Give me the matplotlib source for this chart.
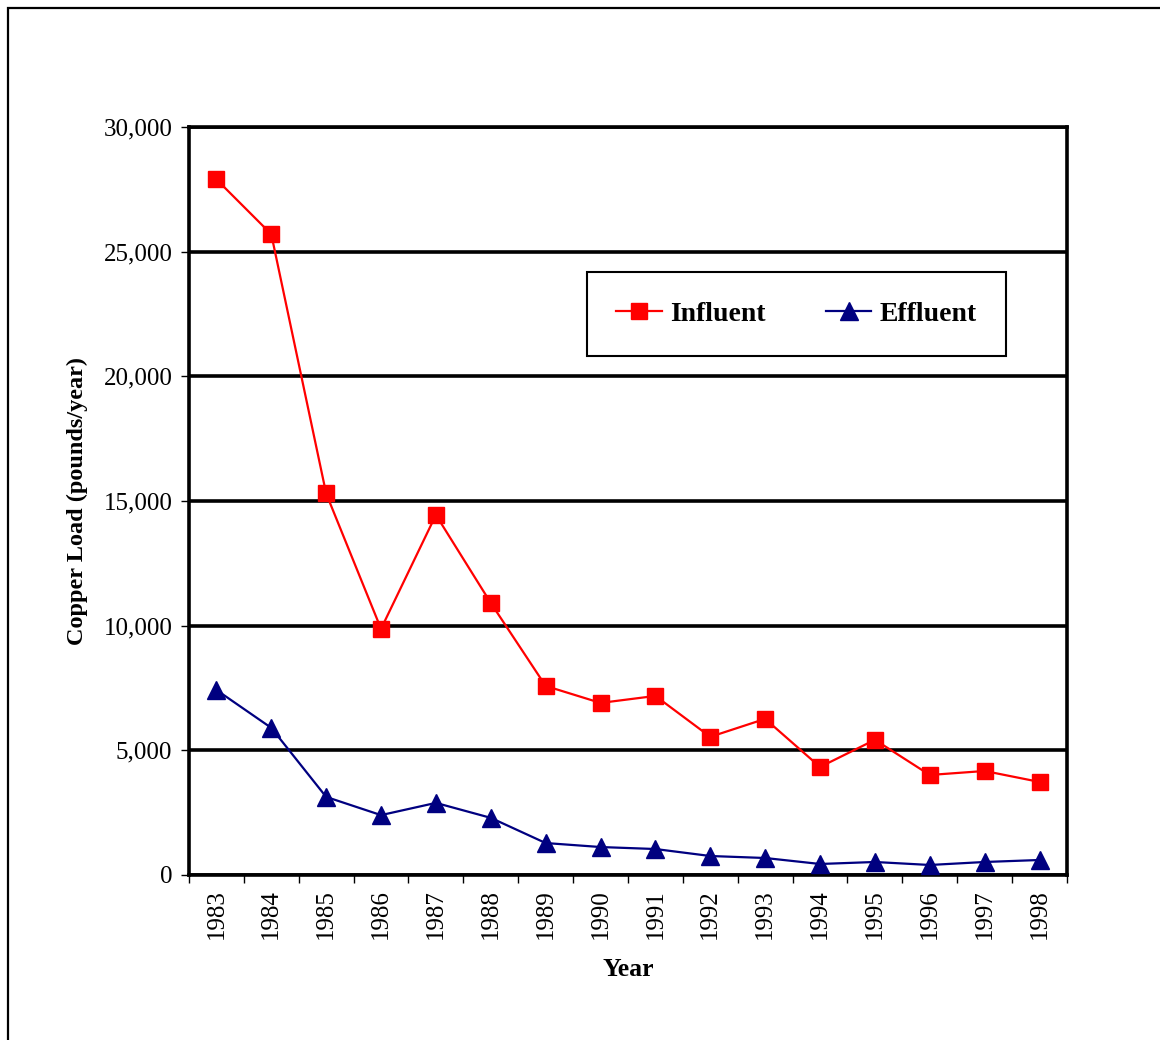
import numpy as np
import matplotlib.pyplot as plt
from matplotlib.patches import Rectangle
from matplotlib.ticker import FuncFormatter, FixedLocator

years = ["1983", "1984", "1985", "1986", "1987", "1988", "1989", "1990",
         "1991", "1992", "1993", "1994", "1995", "1996", "1997", "1998"]
influent = [27900, 25700, 15300, 9870, 14440, 10910, 7580, 6900,
            7180, 5540, 6260, 4330, 5420, 4010, 4170, 3730]
effluent = [7420, 5900, 3130, 2400, 2890, 2290, 1280, 1120,
            1040, 760, 680, 440, 520, 400, 520, 600]

plt.rcParams['font.family'] = ['Liberation Serif', 'DejaVu Serif']

fig = plt.figure(figsize=(11.6, 10.4), dpi=100)
ax = fig.add_axes([0.1629, 0.1587, 0.7569, 0.7192])

x = np.arange(len(years))
ax.plot(x, influent, color='#FF0000', lw=1.6, marker='s', ms=12,
        mec='#FF0000', mfc='#FF0000', label='Influent', zorder=4)
ax.plot(x, effluent, color='#000080', lw=1.6, marker='^', ms=12.5,
        mec='#000080', mfc='#000080', label='Effluent', zorder=4)

ax.set_xlim(-0.5, len(years) - 0.5)
ax.set_ylim(0, 30000)
ax.set_yticks(np.arange(0, 30001, 5000))
ax.yaxis.set_major_formatter(FuncFormatter(lambda v, p: f"{int(v):,}"))
ax.yaxis.grid(True, color='black', lw=2.6)
ax.set_axisbelow(True)

ax.set_xticks(x)
ax.set_xticklabels(years, rotation=90)
ax.xaxis.set_minor_locator(FixedLocator(np.arange(-0.5, len(years), 1.0)))
ax.tick_params(axis='x', which='major', length=0, pad=10, labelsize=18)
ax.tick_params(axis='x', which='minor', length=6, width=1, direction='out')
ax.tick_params(axis='y', length=6, width=1, direction='out', pad=6, labelsize=18)

for s in ax.spines.values():
    s.set_linewidth(2.6)

ax.set_xlabel("Year", fontsize=18.5, fontweight='bold', labelpad=14)
ax.set_ylabel("Copper Load (pounds/year)", fontsize=17.5, fontweight='bold', labelpad=11)

leg = ax.legend(loc='center', bbox_to_anchor=(0.454, 0.6925, 0.476, 0.115),
                ncol=2, prop={'weight': 'bold', 'size': 20},
                fancybox=False, shadow=False, framealpha=1, edgecolor='black',
                handlelength=1.65, handletextpad=0.3, columnspacing=2.15,
                borderpad=1.05, borderaxespad=0)
leg.get_frame().set_linewidth(1.5)

# outer chart border (cut at right and bottom in the original)
fig.patches.append(Rectangle((8 / 1160, -0.1), 1.2, 1.1 - 8 / 1040,
                             transform=fig.transFigure, fill=False,
                             edgecolor='black', lw=1.6))

fig.savefig("out.png", dpi=100)
